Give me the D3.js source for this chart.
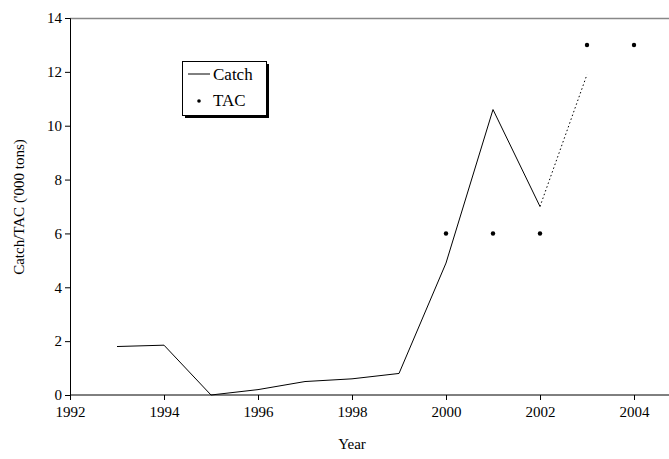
<!DOCTYPE html><html><head><meta charset="utf-8">
<script src="https://cdn.jsdelivr.net/npm/d3@7"></script>
<style>body{margin:0;background:#fff}svg,svg text{font-family:"Liberation Serif","Times New Roman",serif !important}</style></head><body>
<svg id="c" width="669" height="459"></svg>
<script>
const catchYears=[1993,1994,1995,1996,1997,1998,1999,2000,2001,2002];
const catchVals=[1.8,1.85,0,0.2,0.5,0.6,0.8,4.9,10.6,7.0];
const projYears=[2002,2003];
const projVals=[7.0,11.9];
const tacYears=[2000,2001,2002,2003,2004];
const tacVals=[6,6,6,13,13];
const xTicks=[1992,1994,1996,1998,2000,2002,2004];
const yTicks=[0,2,4,6,8,10,12,14];
const svg=d3.select("#c");
const x=d3.scaleLinear().domain([1992,2004]).range([70,634]);
const y=d3.scaleLinear().domain([0,14]).range([395,18]);
const right=669;
svg.append("line").attr("x1",70).attr("x2",right).attr("y1",18.5).attr("y2",18.5).attr("stroke","#888").attr("stroke-width",1.5);
const xa=svg.append("g").attr("transform","translate(0,395)").call(d3.axisBottom(x).tickValues(xTicks).tickFormat(d3.format("d")).tickSizeOuter(0).tickSize(5));
xa.select(".domain").attr("d","M70,0H"+right);
const ya=svg.append("g").attr("transform","translate(70,0)").call(d3.axisLeft(y).tickValues(yTicks).tickSizeOuter(0).tickSize(5));
[xa,ya].forEach(a=>{a.attr("font-size",15);a.selectAll("text").attr("fill","#000");a.selectAll("line,path").attr("stroke","#000");});
xa.selectAll("text").attr("dy","0.9em");
svg.append("text").attr("x",352).attr("y",449).attr("text-anchor","middle").attr("font-size",15).text("Year");
svg.append("text").attr("transform","translate(24,207) rotate(-90)").attr("text-anchor","middle").attr("font-size",15).text("Catch/TAC ('000 tons)");
const line=d3.line().x(d=>x(d[0])).y(d=>y(d[1]));
svg.append("path").attr("d",line(catchYears.map((d,i)=>[d,catchVals[i]]))).attr("fill","none").attr("stroke","#000").attr("stroke-width",1);
svg.append("path").attr("d",line(projYears.map((d,i)=>[d,projVals[i]]))).attr("fill","none").attr("stroke","#000").attr("stroke-width",1).attr("stroke-dasharray","1.5,2.5");
svg.selectAll(".t").data(tacYears).enter().append("circle").attr("cx",d=>x(d)).attr("cy",(d,i)=>y(tacVals[i])).attr("r",2.2).attr("fill","#000");
svg.append("rect").attr("x",185).attr("y",64).attr("width",84).attr("height",54).attr("fill","#000");
svg.append("rect").attr("x",182.5).attr("y",61.5).attr("width",84).attr("height",54).attr("fill","#fff").attr("stroke","#000");
svg.append("line").attr("x1",188).attr("x2",210).attr("y1",74).attr("y2",74).attr("stroke","#000");
svg.append("text").attr("x",213).attr("y",80).attr("font-size",17).text("Catch");
svg.append("circle").attr("cx",199).attr("cy",101).attr("r",1.8).attr("fill","#000");
svg.append("text").attr("x",213).attr("y",106).attr("font-size",17).text("TAC");
</script></body></html>
